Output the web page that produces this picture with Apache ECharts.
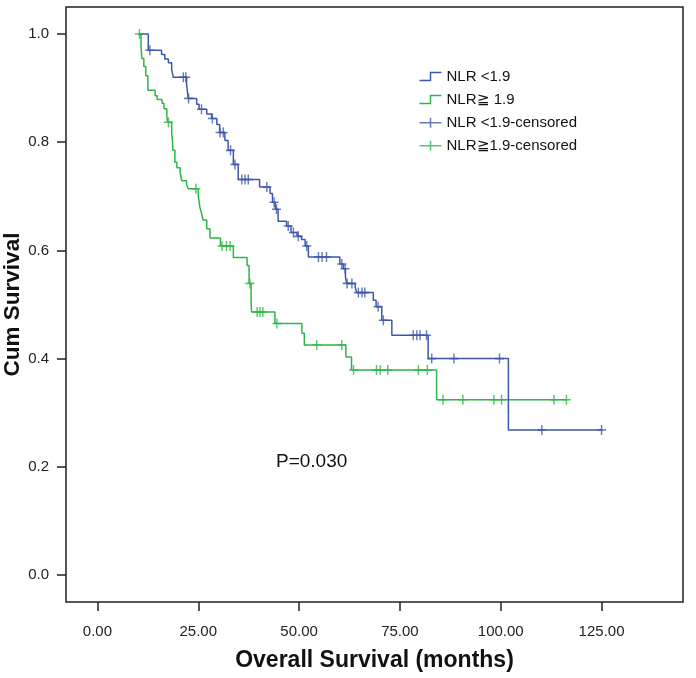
<!DOCTYPE html>
<html>
<head>
<meta charset="utf-8">
<script src="https://cdn.jsdelivr.net/npm/echarts@6/dist/echarts.min.js"></script>
<style>html,body{margin:0;padding:0;background:#fff}#chart{width:696px;height:678px}</style>
</head>
<body>
<div id="chart"></div>
<script>
// Tick values
var xTicks = [0, 25, 50, 75, 100, 125];
var yTicks = [0, 0.2, 0.4, 0.6, 0.8, 1.0];

// NLR <1.9 : step events (time in months, cumulative survival after event)
var lowTimes = [10.2, 12.6, 15.9, 16.7, 17.6, 18.4, 18.8, 22.1, 22.5, 24.6, 25.2, 27.1, 28.3, 29.6, 30.3, 31.6, 32.4, 33.7, 34.9, 40.2, 42.8, 43.4, 44.1, 44.8, 46.9, 48.0, 49.5, 50.6, 51.5, 52.3, 60.1, 61.0, 61.5, 61.8, 63.9, 64.3, 68.4, 69.1, 70.5, 73.0, 82.0, 101.9, 125.3];
var lowSurv  = [1.000, 0.970, 0.962, 0.954, 0.947, 0.935, 0.920, 0.907, 0.881, 0.870, 0.861, 0.852, 0.844, 0.833, 0.818, 0.803, 0.785, 0.759, 0.731, 0.717, 0.705, 0.689, 0.676, 0.654, 0.645, 0.633, 0.626, 0.620, 0.608, 0.588, 0.575, 0.566, 0.550, 0.539, 0.532, 0.522, 0.508, 0.496, 0.471, 0.443, 0.400, 0.268, 0.268];
// NLR <1.9 censored times
var lowCensor = [13.0, 21.3, 21.9, 22.6, 25.8, 28.5, 30.4, 31.2, 33.0, 34.1, 35.8, 36.6, 37.4, 42.0, 43.8, 44.4, 47.3, 48.6, 49.8, 51.9, 54.8, 55.7, 56.8, 60.6, 61.4, 61.9, 63.1, 64.7, 65.6, 66.3, 69.6, 70.9, 78.3, 79.2, 80.0, 81.6, 82.9, 88.4, 99.7, 110.2, 125.0];

// NLR≧1.9 : step events
var highTimes = [10.2, 10.8, 11.0, 11.5, 12.0, 12.5, 14.3, 14.8, 16.0, 16.5, 17.2, 17.4, 18.4, 18.6, 18.7, 19.2, 19.7, 20.5, 20.9, 22.1, 22.5, 25.0, 25.4, 25.8, 26.2, 27.1, 27.9, 30.5, 33.7, 37.1, 37.6, 38.1, 38.2, 44.0, 50.7, 51.3, 61.6, 63.0, 84.1, 116.3];
var highSurv  = [1.000, 0.977, 0.955, 0.940, 0.923, 0.896, 0.886, 0.879, 0.872, 0.862, 0.848, 0.837, 0.818, 0.803, 0.785, 0.763, 0.753, 0.744, 0.729, 0.722, 0.714, 0.701, 0.680, 0.669, 0.656, 0.640, 0.623, 0.608, 0.587, 0.572, 0.539, 0.508, 0.486, 0.465, 0.447, 0.425, 0.403, 0.379, 0.324, 0.324];
// NLR≧1.9 censored times
var highCensor = [10.4, 17.6, 24.4, 30.9, 32.0, 32.9, 37.8, 39.6, 40.3, 41.0, 44.5, 54.4, 60.6, 63.5, 69.2, 70.1, 72.0, 79.6, 81.8, 85.7, 90.6, 98.3, 100.2, 113.2, 116.3];

var pText = 'P=0.030';
var names = ['NLR <1.9', 'NLR\u2267 1.9', 'NLR <1.9-censored', 'NLR\u22671.9-censored'];
var blue = '#3d58ab';
var green = '#2fb548';

function pairs(t, s) { return t.map(function (v, i) { return [v, s[i]]; }); }
function levelAt(times, surv, t) {
  var s = surv[0];
  for (var i = 0; i < times.length; i++) { if (times[i] <= t) s = surv[i]; }
  return s;
}
function censorPts(ct, times, surv) { return ct.map(function (t) { return [t, levelAt(times, surv, t)]; }); }

var plusSym = 'path://M0,5 L8,5 M4,0 L4,10';
var stepIcon = 'path://M0,8 L11,8 L11,0 L22,0';
var plusIcon = 'path://M0,5 L22,5 M11,0 L11,10';
var font = 'Liberation Sans, Arial, sans-serif';

var chart = echarts.init(document.getElementById('chart'), null, {renderer: 'canvas'});
chart.setOption({
  animation: false,
  backgroundColor: '#fff',
  grid: {left: 66, right: 13, top: 7, bottom: 76, containLabel: false, outerBoundsMode: 'none', show: true, borderColor: '#222', borderWidth: 1.5, backgroundColor: 'transparent'},
  legend: {
    orient: 'vertical', left: 412, top: 64, itemWidth: 22, itemHeight: 14, itemGap: 8.1,
    textStyle: {fontFamily: font, fontSize: 15, color: '#111'},
    data: [
      {name: names[0], icon: stepIcon, itemStyle: {color: 'none', borderColor: blue, borderWidth: 1.5}},
      {name: names[1], icon: stepIcon, itemStyle: {color: 'none', borderColor: green, borderWidth: 1.5}},
      {name: names[2], icon: plusIcon, itemStyle: {color: 'none', borderColor: blue, borderWidth: 1.5}},
      {name: names[3], icon: plusIcon, itemStyle: {color: 'none', borderColor: green, borderWidth: 1.5}}
    ]
  },
  xAxis: {
    type: 'value', min: -7.8, max: 145.2,
    name: 'Overall Survival (months)', nameLocation: 'middle', nameGap: 47, nameMoveOverlap: false,
    nameTextStyle: {fontFamily: font, fontSize: 23, fontWeight: 'bold', color: '#111'},
    axisLine: {show: false, onZero: false},
    splitLine: {show: false},
    axisTick: {show: true, length: 9, lineStyle: {color: '#222', width: 1.5}, customValues: xTicks},
    axisLabel: {margin: 22, fontFamily: font, fontSize: 15, color: '#222', customValues: xTicks, formatter: function (v) { return v.toFixed(2); }}
  },
  yAxis: {
    type: 'value', min: -0.05, max: 1.05,
    name: 'Cum Survival', nameLocation: 'middle', nameGap: 42, nameRotate: 90, nameMoveOverlap: false,
    nameTextStyle: {fontFamily: font, fontSize: 22.5, fontWeight: 'bold', color: '#111'},
    axisLine: {show: false, onZero: false},
    splitLine: {show: false},
    axisTick: {show: true, length: 9, lineStyle: {color: '#222', width: 1.5}, customValues: yTicks},
    axisLabel: {margin: 17, fontFamily: font, fontSize: 15, color: '#222', customValues: yTicks, formatter: function (v) { return v.toFixed(1); }}
  },
  graphic: [{
    type: 'text', left: 276, top: 452,
    style: {text: pText, font: '19px "Liberation Sans", Arial, sans-serif', fill: '#111'}
  }],
  series: [
    {name: names[0], type: 'line', step: 'end', symbol: 'none', data: pairs(lowTimes, lowSurv), lineStyle: {color: blue, width: 1.5}, itemStyle: {color: blue}, z: 3},
    {name: names[1], type: 'line', step: 'end', symbol: 'none', data: pairs(highTimes, highSurv), lineStyle: {color: green, width: 1.5}, itemStyle: {color: green}, z: 2},
    {name: names[2], type: 'scatter', symbol: plusSym, symbolSize: [9, 10], data: censorPts(lowCensor, lowTimes, lowSurv), itemStyle: {color: 'none', borderColor: blue, borderWidth: 1.5}, z: 4},
    {name: names[3], type: 'scatter', symbol: plusSym, symbolSize: [9, 10], data: censorPts(highCensor, highTimes, highSurv), itemStyle: {color: 'none', borderColor: green, borderWidth: 1.5}, z: 4}
  ]
});
</script>
</body>
</html>
